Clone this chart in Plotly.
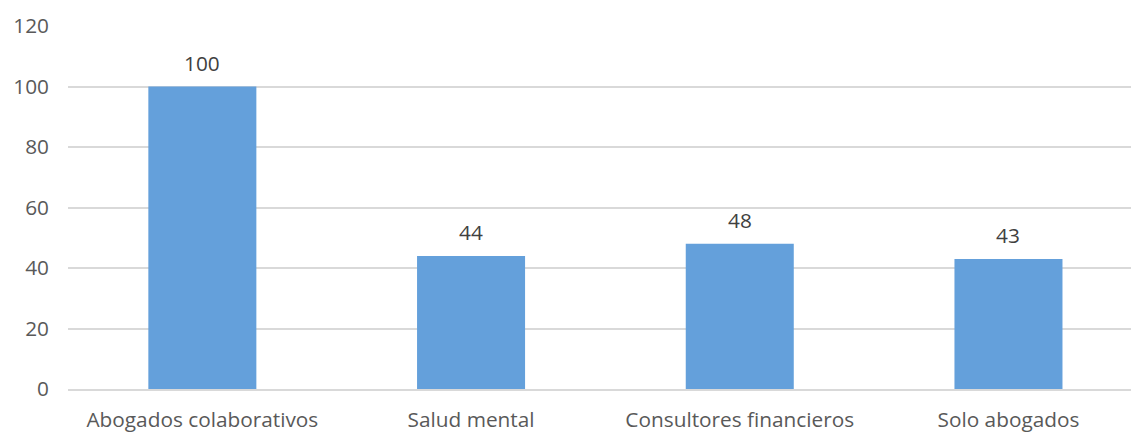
import plotly.graph_objects as go

categories = ["Abogados colaborativos", "Salud mental", "Consultores financieros", "Solo abogados"]
values = [100, 44, 48, 43]
y_ticks = [0, 20, 40, 60, 80, 100, 120]

FONT = "Open Sans"
SIZE = 20.8

fig = go.Figure()
fig.add_trace(go.Bar(
    x=list(range(len(categories))),
    y=values,
    width=0.402,
    marker=dict(color="#64A0DB", line=dict(width=0)),
    hoverinfo="skip",
))

for i, v in enumerate(values):
    fig.add_annotation(x=i, y=v, text=str(v), showarrow=False,
                       yanchor="bottom", yshift=8,
                       font=dict(family=FONT, size=SIZE, color="#404040"))

fig.update_layout(
    width=1131, height=432,
    margin=dict(l=68, r=0, t=26, b=43),
    paper_bgcolor="white", plot_bgcolor="white",
    showlegend=False,
    font=dict(family=FONT, size=SIZE, color="#595959"),
    bargap=0.6,
)
fig.update_xaxes(
    range=[-0.5, 3.456],
    tickmode="array", tickvals=list(range(len(categories))), ticktext=categories,
    showgrid=False, zeroline=False,
    showline=True, linecolor="#D9D9D9", linewidth=1.5,
    ticks="", ticklabelstandoff=11,
)
fig.update_yaxes(
    range=[0, 120],
    tickmode="array", tickvals=y_ticks,
    showgrid=True, gridcolor="#D9D9D9", gridwidth=1.5,
    zeroline=False, showline=False,
    ticks="", ticklabelstandoff=18,
)

fig.write_html("out.html")
